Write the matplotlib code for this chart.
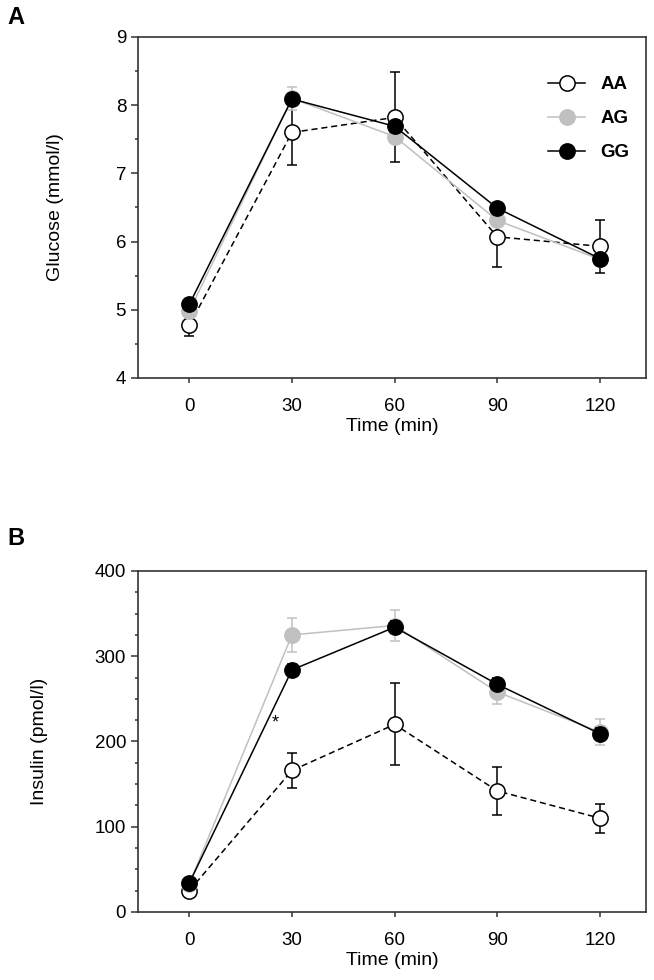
import numpy as np
import matplotlib
matplotlib.use("Agg")
import matplotlib.pyplot as plt
from matplotlib.lines import Line2D

plt.rcParams['font.family'] = ['Liberation Sans', 'DejaVu Sans']

time = [0, 30, 60, 90, 120]
genotypes = ["AA", "AG", "GG"]

# Glucose (mmol/l), mean and SE per genotype
glucose_aa = [4.77, 7.60, 7.82, 6.07, 5.93]
glucose_aa_se = [0.15, 0.48, 0.66, 0.45, 0.39]
glucose_ag = [4.98, 8.10, 7.54, 6.31, 5.74]
glucose_ag_se = [0.06, 0.17, 0.08, 0.08, 0.06]
glucose_gg = [5.08, 8.09, 7.69, 6.49, 5.75]
glucose_gg_se = [0.06, 0.08, 0.08, 0.08, 0.06]

# Insulin (pmol/l), mean and SE per genotype
insulin_aa = [25, 166, 220, 142, 110]
insulin_aa_se = [5, 20, 48, 28, 17]
insulin_ag = [33, 325, 336, 258, 211]
insulin_ag_se = [4, 20, 18, 14, 15]
insulin_gg = [34, 284, 334, 267, 209]
insulin_gg_se = [4, 7, 7, 7, 7]

star_x, star_y = 25, 222

styles = {
    "AA": dict(color="black", mfc="white", ls="--", zorder=2),
    "AG": dict(color="#c0c0c0", mfc="#c0c0c0", ls="-", zorder=3),
    "GG": dict(color="black", mfc="black", ls="-", zorder=4),
}


def panel(ax, series, ylim, major, minor, ylabel, label_x, legend=False):
    for name, (y, se) in zip(genotypes, series):
        st = styles[name]
        kw = dict(dashes=(4, 2.5)) if st["ls"] == "--" else {}
        ax.errorbar(time, y, yerr=se, color=st["color"], ecolor=st["color"],
                    ls=st["ls"], lw=1.1, elinewidth=1.1, capsize=3.5, capthick=1.1,
                    marker="o", ms=11, mfc=st["mfc"], mec=st["color"], mew=1.1,
                    zorder=st["zorder"], **kw)
    ax.set_xlim(-15, 133.5)
    ax.set_ylim(*ylim)
    ax.set_xticks(time)
    ax.set_yticks(np.arange(ylim[0], ylim[1] + major / 2, major))
    ax.set_yticks(np.arange(ylim[0], ylim[1] + minor / 2, minor), minor=True)
    ax.tick_params(direction="out", labelsize=13.5, length=5, width=1.1, color="#333333")
    ax.tick_params(axis="x", pad=11, length=3.5)
    ax.tick_params(which="minor", direction="out", length=2.5, width=1.1, color="#333333")
    for s in ax.spines.values():
        s.set_linewidth(1.2)
        s.set_color("#333333")
    ax.set_xlabel("Time (min)", fontsize=14, labelpad=2)
    ax.set_ylabel(ylabel, fontsize=14)
    ax.yaxis.set_label_coords(label_x, 0.5)
    if legend:
        handles = [Line2D([], [], color=styles[n]["color"], lw=1.1, marker="o", ms=11,
                          mfc=styles[n]["mfc"], mec=styles[n]["color"], mew=1.1)
                   for n in genotypes]
        ax.legend(handles, genotypes, loc="upper right", bbox_to_anchor=(1.0, 0.935),
                  frameon=False, prop=dict(size=13.5, weight="bold"), handlelength=2.0,
                  labelspacing=0.9, handletextpad=0.8)


fig = plt.figure(figsize=(6.54, 9.8), dpi=100)
ax1 = fig.add_axes([0.211, 0.6143, 0.777, 0.348])
ax2 = fig.add_axes([0.211, 0.0694, 0.777, 0.348])

panel(ax1, [(glucose_aa, glucose_aa_se), (glucose_ag, glucose_ag_se), (glucose_gg, glucose_gg_se)],
      (4, 9), 1, 0.5, "Glucose (mmol/l)", -0.145, legend=True)
panel(ax2, [(insulin_aa, insulin_aa_se), (insulin_ag, insulin_ag_se), (insulin_gg, insulin_gg_se)],
      (0, 400), 100, 25, "Insulin (pmol/l)", -0.177)
ax2.text(star_x, star_y, "*", fontsize=13, ha="center", va="center")

fig.text(0.011, 0.982, "A", fontsize=17, fontweight="bold", va="center")
fig.text(0.012, 0.451, "B", fontsize=17, fontweight="bold", va="center")

fig.savefig("out.png", dpi=100)
